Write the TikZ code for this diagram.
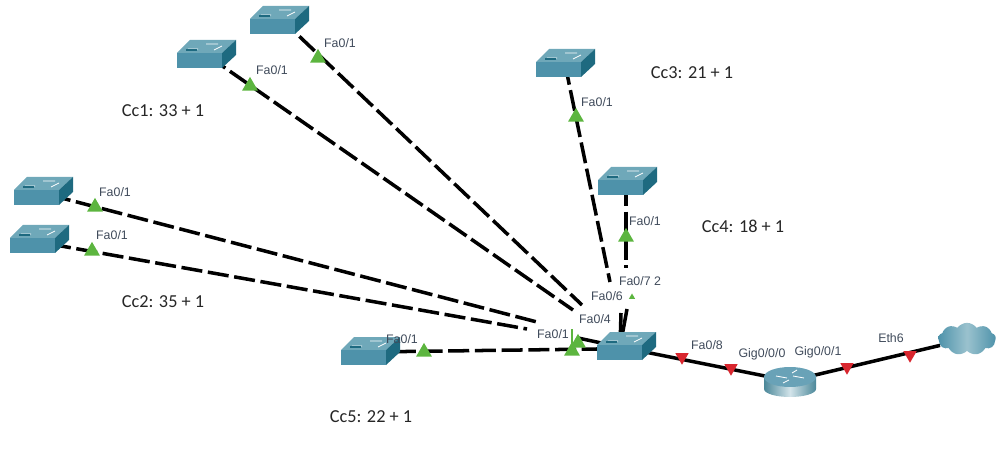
\documentclass[tikz,border=0pt]{standalone}
\usepackage{fontspec}
\setmainfont{Liberation Sans}
\newfontfamily\notefont{Carlito}
\usetikzlibrary{shapes.geometric,shapes.symbols}
\definecolor{swfront}{HTML}{4E92AA}
\definecolor{swtop}{HTML}{6FA8B9}
\definecolor{swside}{HTML}{1E6A80}
\definecolor{markgreen}{HTML}{5CB53F}
\definecolor{markred}{HTML}{D8262E}
\definecolor{porttext}{HTML}{3F4A5A}
\tikzset{
    hub/.style={inner sep=0pt, minimum size=1pt},
    uplink/.style={line width=2.5pt, black, dash pattern=on 15pt off 4pt},
    trunk/.style={line width=2.5pt, black},
    portlabel/.style={font=\fontsize{8.8}{10}\selectfont, text=porttext, inner sep=1pt},
    notelabel/.style={font=\notefont\fontsize{13}{15}\selectfont, text=black!85, inner sep=0pt},
    greenmark/.style={regular polygon, regular polygon sides=3, fill=markgreen, inner sep=0pt, minimum size=13pt},
    redmark/.style={regular polygon, regular polygon sides=3, shape border rotate=180, fill=markred, inner sep=0pt, minimum size=11pt},
    switchicon/.pic={
        \fill[swtop] (-23,-2) -- (-10,-15) -- (36,-15) -- (22,-2) -- cycle;
        \fill[swfront] (-23,-2) rectangle (22,13);
        \fill[swside] (22,-2) -- (36,-15) -- (36,0) -- (22,13) -- cycle;
        \draw[white, line width=0.5pt] (-12,-6) -- (-2,-6) (6,-11) -- (18,-11) (14,-5) -- (22,-9);
        \draw[swside, line width=0.8pt] (-14,-5) -- (-3,-5);
    },
    routericon/.pic={
        \shade[left color=swside!80, right color=swside!80, middle color=white!75!swfront]
            (-26,-4) -- (-26,8) arc[start angle=180, end angle=0, x radius=26, y radius=8] -- (26,-4) -- cycle;
        \fill[swfront!85!white] (0,-4) ellipse[x radius=26, y radius=10];
        \draw[white, line width=0.6pt] (-14,-5) -- (-3,-3) (14,-3) -- (3,-5) (-7,2) -- (-1,-1) (2,-8) -- (7,-11);
    }
}
\begin{document}
\begin{tikzpicture}[x=0.025cm, y=-0.025cm]
    \useasboundingbox (0,0) rectangle (1005,458);

    \foreach \name/\x/\y in {swa/200/55, swb/273/21, swc/559/64, swd/621/182, swe/37/192, swf/33/240, swg/364/352, swhub/620/347} {
        \node[hub] (\name) at (\x,\y) {};
    }
    \node[hub] (router) at (790,381) {};
    \node[cloud, cloud puffs=9, cloud puff arc=110, aspect=1.9, inner sep=0pt, minimum width=41pt, minimum height=23pt,
        left color=swfront, right color=swfront, middle color=swtop!70!white] (inet) at (967,339) {};

    \foreach \name/\x/\y/\u/\v in {a/208/56/573/310, b/280/18/582/305, c/565/64/610/282, d/626/185/626/268, e/50/195/537/322, f/50/244/527/329, g/368/352/597/349} {
        \coordinate (tail\name) at (\x,\y);
        \coordinate (stop\name) at (\u,\v);
        \draw[uplink] (tail\name) -- (stop\name);
    }
    \foreach \name/\x/\y in {p/578/338, q/621/313, r/627/309} {
        \coordinate (stub\name) at (\x,\y);
        \draw[trunk] (stub\name) -- (swhub);
    }
    \draw[trunk] (swhub) -- (router);
    \draw[trunk] (router) -- (inet);

    \foreach \x/\y [count=\i] in {318/58, 250/86, 576/117, 626/237, 95/207, 92/251, 424/352, 572/351, 578/343} {
        \node[greenmark] (up\i) at (\x,\y) {};
    }
    \node[greenmark, minimum size=5pt] (up10) at (632,297) {};
    \fill[markgreen] (571,329) rectangle (573,345);
    \foreach \x/\y [count=\i] in {682/357, 731/368, 847/367, 910/355} {
        \node[redmark] (down\i) at (\x,\y) {};
    }

    \foreach \name in {swa, swb, swc, swd, swe, swf, swg, swhub} {
        \pic at (\name) {switchicon};
    }
    \pic at (router) {routericon};

    \foreach \x/\y/\txt [count=\i] in {340/43/Fa0\slash 1, 272/70/Fa0\slash 1, 597/102/Fa0\slash 1, 645/221/Fa0\slash 1, 115/192/Fa0\slash 1, 112/235/Fa0\slash 1, 402/339/Fa0\slash 1, 707/345/Fa0\slash 8, 762/354/Gig0\slash 0\slash 0, 818/352/Gig0\slash 0\slash 1, 891/338/Eth6, 640/281/Fa0\slash 7 2, 607/296/Fa0\slash 6, 595/319/Fa0\slash 4, 553/334/Fa0\slash 1} {
        \node[portlabel] (port\i) at (\x,\y) {\txt};
    }

    \node[notelabel] (cca) at (163,111) {Cc1: 33 + 1};
    \node[notelabel] (ccb) at (163,302) {Cc2: 35 + 1};
    \node[notelabel] (ccc) at (692,73) {Cc3: 21 + 1};
    \node[notelabel] (ccd) at (743,226) {Cc4: 18 + 1};
    \node[notelabel] (cce) at (371,417) {Cc5: 22 + 1};
\end{tikzpicture}
\end{document}
